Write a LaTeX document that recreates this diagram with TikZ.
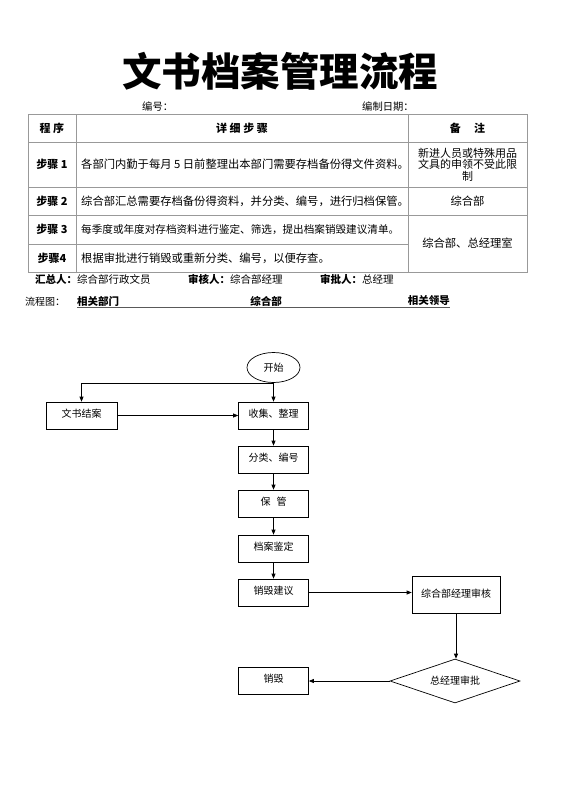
\documentclass[tikz,border=0pt]{standalone}
\usepackage{fontspec}
\setmainfont{Noto Sans CJK SC}
\usetikzlibrary{shapes.geometric,arrows.meta}
\begin{document}
\begin{tikzpicture}[x=1pt,y=-1pt,
  tline/.style={draw=gray!80,line width=0.7pt},
  cell/.style={inner sep=0pt,font=\fontsize{11.3}{13}\selectfont},
  hcell/.style={inner sep=0pt,font=\fontsize{11}{13}\selectfont\bfseries},
  info/.style={inner sep=0pt,anchor=west,font=\fontsize{10.5}{12}\selectfont},
  infob/.style={info,font=\fontsize{10.5}{12}\selectfont\bfseries},
  fbox/.style={draw,line width=0.7pt,minimum width=70pt,minimum height=27pt,inner sep=0pt,text height=7pt,text depth=4pt,font=\fontsize{10}{12}\selectfont},
  arr/.style={draw,line width=0.7pt,-{Triangle[length=5pt,width=4pt]}}]
\useasboundingbox (0,0) rectangle (560,792);
\fill[white] (0,0) rectangle (560,792);
% title
\node[inner sep=0pt,font=\fontsize{39.5}{40}\selectfont\bfseries] (title) at (280,71) {文书档案管理流程};
\node[info,font=\fontsize{10.3}{12}\selectfont] (bianhao) at (142,107) {编号：};
\node[info,font=\fontsize{10.3}{12}\selectfont] (riqi) at (362,107) {编制日期：};
% table
\draw[tline] (28,114) rectangle (527,272);
\draw[tline] (76,114) -- (76,272);
\draw[tline] (408,114) -- (408,272);
\draw[tline] (28,142) -- (527,142);
\draw[tline] (28,187) -- (527,187);
\draw[tline] (28,215) -- (527,215);
\draw[tline] (28,244) -- (408,244);
\node[hcell] (h1) at (52,128) {程 序};
\node[hcell] (h2) at (242,128) {详 细 步 骤};
\node[hcell] (h3) at (467.5,128) {备\hspace{1.2em}注};
\node[hcell] (s1) at (52,164.5) {步骤 1};
\node[hcell] (s2) at (52,201) {步骤 2};
\node[hcell] (s3) at (52,229.5) {步骤 3};
\node[hcell] (s4) at (52,258) {步骤4};
\node[cell,anchor=west] (t1) at (81,164.5) {各部门内勤于每月 5 日前整理出本部门需要存档备份得文件资料。};
\node[cell,anchor=west] (t2) at (81,201) {综合部汇总需要存档备份得资料，并分类、编号，进行归档保管。};
\node[cell,anchor=west,font=\fontsize{10.6}{13}\selectfont] (t3) at (81,229.5) {每季度或年度对存档资料进行鉴定、筛选，提出档案销毁建议清单。};
\node[cell,anchor=west] (t4) at (81,258) {根据审批进行销毁或重新分类、编号，以便存查。};
\node[cell,align=center,font=\fontsize{11}{11.5}\selectfont] (r1) at (467.5,164.5) {新进人员或特殊用品\\文具的申领不受此限\\制};
\node[cell] (r2) at (467.5,201) {综合部};
\node[cell] (r3) at (467.5,243.5) {综合部、总经理室};
% signatures
\node[infob] (a1) at (35,279) {汇总人：};
\node[info] (a2) at (77,279) {综合部行政文员};
\node[infob] (b1) at (188,279) {审核人：};
\node[info] (b2) at (230,279) {综合部经理};
\node[infob] (c1) at (320,279) {审批人：};
\node[info] (c2) at (362,279) {总经理};
\node[info,font=\fontsize{10}{12}\selectfont] (lc) at (25,302) {流程图：};
\node[infob] (d1) at (77,301) {相关部门};
\node[infob,anchor=center] (d2) at (266,301) {综合部};
\node[infob,anchor=east] (d3) at (450,301) {相关领导};
\draw[line width=0.7pt,gray!70!black] (77,307.5) -- (450,307.5);
% flowchart
\node[draw,ellipse,line width=0.7pt,minimum width=53pt,minimum height=30pt,inner sep=0pt,font=\fontsize{10}{12}\selectfont] (start) at (273.5,367.5) {开始};
\node[fbox,minimum width=71pt] (doc) at (81.5,415.5) {文书结案};
\node[fbox] (collect) at (273.5,415.5) {收集、整理};
\node[fbox] (classify) at (273.5,459.5) {分类、编号};
\node[fbox] (keep) at (273.5,503.5) {保\hspace{0.6em}管};
\node[fbox] (appraise) at (273.5,548.5) {档案鉴定};
\node[fbox] (suggest) at (273.5,592.5) {销毁建议};
\node[fbox,minimum width=88pt,minimum height=37pt,text height=8pt,text depth=2pt] (review) at (456,594.5) {综合部经理审核};
\node[draw,diamond,line width=0.7pt,minimum width=130pt,minimum height=44pt,inner sep=0pt,aspect=3,font=\fontsize{10}{12}\selectfont] (approve) at (455,681) {总经理审批};
\node[fbox] (destroy) at (273.5,680.5) {销毁};
\draw[arr] (start.south) -- (collect.north);
\draw[arr] (start.south) -| (doc.north);
\draw[arr] (doc.east) -- (collect.west);
\draw[arr] (collect.south) -- (classify.north);
\draw[arr] (classify.south) -- (keep.north);
\draw[arr] (keep.south) -- (appraise.north);
\draw[arr] (appraise.south) -- (suggest.north);
\draw[arr] (suggest.east) -- (suggest.east -| review.west);
\draw[arr] (review.south) -- (review.south |- approve.north);
\draw[arr] (approve.west) -- (approve.west -| destroy.east);
\end{tikzpicture}
\end{document}
